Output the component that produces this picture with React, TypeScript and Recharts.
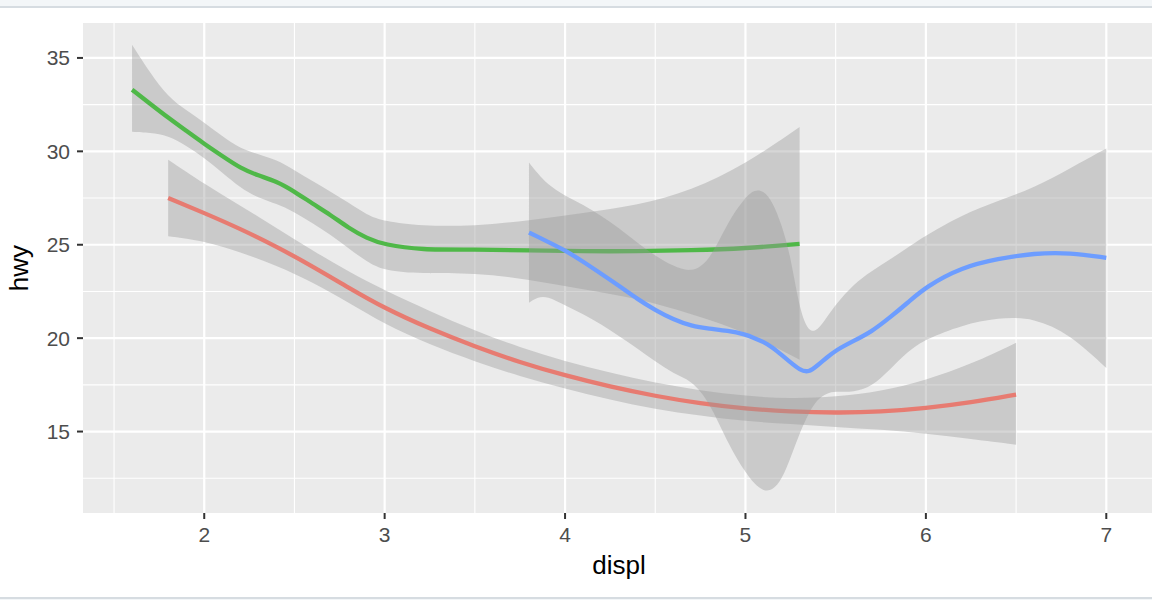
import {
  Area,
  CartesianGrid,
  ComposedChart,
  Line,
  XAxis,
  YAxis,
} from "recharts";

// drv = 4 (red)
const fourX = [1.8, 2.0, 2.2, 2.4, 2.6, 2.8, 3.0, 3.25, 3.5, 3.75, 4.0, 4.25, 4.5, 4.75, 5.0, 5.25, 5.5, 5.75, 6.0, 6.25, 6.5];
const fourFit = [27.5, 26.7, 25.85, 24.9, 23.85, 22.7, 21.6, 20.5, 19.55, 18.7, 18.0, 17.4, 16.9, 16.5, 16.22, 16.07, 16.0, 16.05, 16.25, 16.55, 16.98];
const fourLo = [25.45, 25.2, 24.6, 23.9, 23.0, 21.9, 20.75, 19.65, 18.75, 17.95, 17.3, 16.7, 16.2, 15.85, 15.55, 15.4, 15.25, 15.1, 14.9, 14.6, 14.3];
const fourHi = [29.55, 28.25, 27.1, 25.9, 24.7, 23.55, 22.55, 21.45, 20.4, 19.5, 18.75, 18.15, 17.6, 17.2, 16.9, 16.75, 16.85, 17.15, 17.75, 18.6, 19.75];

// drv = f (green)
const frontX = [1.6, 1.7, 1.8, 1.9, 2.0, 2.1, 2.2, 2.3, 2.4, 2.5, 2.6, 2.7, 2.8, 2.9, 3.0, 3.2, 3.5, 3.8, 4.1, 4.4, 4.7, 5.0, 5.3];
const frontFit = [33.3, 32.55, 31.8, 31.1, 30.4, 29.75, 29.1, 28.7, 28.4, 27.85, 27.2, 26.6, 25.9, 25.35, 25.0, 24.72, 24.75, 24.7, 24.65, 24.65, 24.7, 24.8, 25.05];
const frontLo = [31.05, 31.0, 30.85, 30.3, 29.65, 28.85, 28.05, 27.5, 27.2, 26.75, 26.15, 25.55, 24.8, 24.1, 23.6, 23.45, 23.5, 23.15, 22.6, 22.15, 21.3, 20.35, 18.85];
const frontHi = [35.7, 34.2, 32.9, 32.2, 31.55, 30.8, 30.15, 29.85, 29.55, 29.0, 28.4, 27.85, 27.25, 26.6, 26.25, 26.0, 26.0, 26.3, 26.7, 27.1, 27.9, 29.3, 31.3];

// drv = r (blue)
const rearX = [3.8, 3.85, 3.9, 4.0, 4.1, 4.2, 4.3, 4.4, 4.5, 4.6, 4.7, 4.8, 4.9, 5.0, 5.05, 5.1, 5.15, 5.2, 5.25, 5.3, 5.35, 5.4, 5.45, 5.5, 5.6, 5.7, 5.8, 5.9, 6.0, 6.2, 6.4, 6.6, 6.8, 7.0];
const rearFit = [25.65, 25.42, 25.18, 24.7, 24.1, 23.45, 22.8, 22.1, 21.5, 21.0, 20.65, 20.5, 20.4, 20.2, 20.0, 19.8, 19.5, 19.1, 18.7, 18.3, 18.15, 18.55, 18.95, 19.35, 19.85, 20.35, 21.1, 21.9, 22.75, 23.8, 24.25, 24.55, 24.58, 24.3];
const rearLo = [21.9, 22.2, 22.25, 21.75, 21.3, 20.75, 20.1, 19.45, 18.75, 18.1, 17.75, 16.6, 14.4, 12.8, 12.2, 11.8, 11.85, 12.4, 13.6, 14.9, 16.0, 16.75, 17.05, 17.15, 17.1, 17.4, 18.3, 19.3, 19.95, 20.7, 21.1, 21.1, 20.2, 18.4];
const rearHi = [29.4, 28.8, 28.25, 27.6, 27.15, 26.55, 25.9, 25.1, 24.4, 23.85, 23.5, 24.1, 26.2, 27.55, 27.95, 27.9, 27.3, 26.1, 24.4, 21.5, 20.3, 20.4, 21.1, 21.8, 22.9, 23.6, 24.2, 24.85, 25.5, 26.6, 27.35, 28.05, 29.1, 30.15];

const xTicks = [2, 3, 4, 5, 6, 7];
const xMinor = [1.5, 2.5, 3.5, 4.5, 5.5, 6.5];
const yTicks = [15, 20, 25, 30, 35];
const yMinor = [12.5, 17.5, 22.5, 27.5, 32.5];

const RED = "#E77B71";
const GREEN = "#4FB848";
const BLUE = "#6D9DFF";
const RIBBON = "#999999";
const FONT = "Liberation Sans, Arial, sans-serif";

function build(xs: number[], fit: number[], lo: number[], hi: number[]) {
  return xs.map((x, i) => ({ x, fit: fit[i], band: [lo[i], hi[i]] }));
}

const fourData = build(fourX, fourFit, fourLo, fourHi);
const frontData = build(frontX, frontFit, frontLo, frontHi);
const rearData = build(rearX, rearFit, rearLo, rearHi);

const tickStyle = { fill: "#4D4D4D", fontSize: 21, fontFamily: FONT };
const tickLineStyle = { stroke: "#333333", strokeWidth: 2 };

export default function App() {
  const series = [
    { key: "4", data: fourData, color: RED },
    { key: "f", data: frontData, color: GREEN },
    { key: "r", data: rearData, color: BLUE },
  ];
  return (
    <div
      style={{
        position: "absolute",
        top: 0,
        left: 0,
        width: 1152,
        height: 600,
        overflow: "hidden",
        background: "#ffffff",
        fontFamily: FONT,
      }}
    >
      <div style={{ position: "absolute", top: 0, left: 0, width: 1152, height: 6, background: "#F3F6F8" }} />
      <div style={{ position: "absolute", top: 6, left: 0, width: 1152, height: 2, background: "#D6DCE1" }} />
      <div style={{ position: "absolute", top: 597, left: 0, width: 1152, height: 2, background: "#D6DCE1" }} />
      <div style={{ position: "absolute", top: 599, left: 0, width: 1152, height: 1, background: "#F3F6F8" }} />
      <div style={{ position: "absolute", top: 0, left: 0 }}>
        <ComposedChart width={1155} height={600} margin={{ top: 23, right: 0, bottom: 0, left: 0 }}>
          <CartesianGrid
            fill="#EBEBEB"
            stroke="#FFFFFF"
            strokeWidth={1.1}
            verticalValues={xMinor}
            horizontalValues={yMinor}
          />
          <CartesianGrid stroke="#FFFFFF" strokeWidth={2.2} verticalValues={xTicks} horizontalValues={yTicks} />
          <XAxis
            type="number"
            dataKey="x"
            domain={[1.328, 7.27]}
            allowDataOverflow
            ticks={xTicks}
            height={87}
            tickSize={6}
            tickMargin={8}
            axisLine={false}
            tick={tickStyle}
            tickLine={tickLineStyle}
          />
          <YAxis
            type="number"
            domain={[10.64, 36.87]}
            allowDataOverflow
            ticks={yTicks}
            width={83}
            tickSize={6}
            tickMargin={7}
            axisLine={false}
            tick={tickStyle}
            tickLine={tickLineStyle}
          />
          {series.flatMap((s, i) => [
            <Area
              key={s.key + "-band"}
              data={s.data}
              dataKey="band"
              type="basis"
              stroke="none"
              fill={RIBBON}
              fillOpacity={0.4}
              isAnimationActive={false}
              activeDot={false}
              zIndex={100 + i * 2}
            />,
            <Line
              key={s.key + "-fit"}
              data={s.data}
              dataKey="fit"
              type="basis"
              stroke={s.color}
              strokeWidth={4.3}
              dot={false}
              activeDot={false}
              isAnimationActive={false}
              zIndex={101 + i * 2}
            />,
          ])}
        </ComposedChart>
      </div>
      <svg
        width={1152}
        height={600}
        style={{ position: "absolute", top: 0, left: 0, pointerEvents: "none" }}
      >
        <text x={619} y={574} textAnchor="middle" fontSize={26} fill="#000000" fontFamily={FONT}>
          displ
        </text>
        <text
          x={0}
          y={0}
          transform="translate(28 268) rotate(-90)"
          textAnchor="middle"
          fontSize={26}
          fill="#000000"
          fontFamily={FONT}
        >
          hwy
        </text>
      </svg>
    </div>
  );
}
